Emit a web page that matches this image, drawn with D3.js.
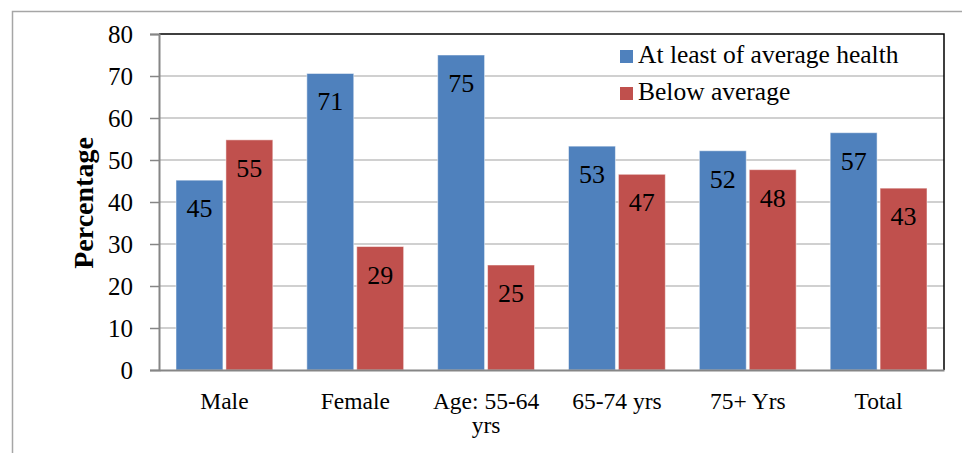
<!DOCTYPE html>
<html>
<head>
<meta charset="utf-8">
<script src="https://cdn.jsdelivr.net/npm/d3@7"></script>
<style>
body{margin:0;background:#fff;}
svg text{font-family:"Liberation Serif","Times New Roman",serif;fill:#000;}
</style>
</head>
<body>
<div id="chart"></div>
<script>
// data
var categories=[["Male"],["Female"],["Age: 55-64","yrs"],["65-74 yrs"],["75+ Yrs"],["Total"]];
var seriesNames=["At least of average health","Below average"];
var atLeast=[45.2,70.6,75.0,53.3,52.2,56.5];
var below=[54.8,29.4,25.0,46.6,47.7,43.3];
var atLeastLabels=["45","71","75","53","52","57"];
var belowLabels=["55","29","25","47","48","43"];
var yTicks=[0,10,20,30,40,50,60,70,80];
var colors=["#4F81BD","#C0504D"];

var W=962,H=453;
var svg=d3.select("#chart").append("svg")
.attr("width",W).attr("height",H);

// outer chart border
svg.append("rect")
.attr("x",12.5).attr("y",11.5)
.attr("width",1000).attr("height",1000)
.attr("fill","none").attr("stroke","#A6A6A6").attr("stroke-width",1.5);

var pLeft=159,pRight=944,pTop=34,pBottom=370;

var keys=categories.map(function(d){return d.join(" ");});

var x0=d3.scaleBand()
.domain(keys)
.range([pLeft,pRight])
.paddingInner(0.26)
.paddingOuter(0.13);

var x1=d3.scaleBand()
.domain([0,1])
.range([0,x0.bandwidth()])
.paddingInner(0.06);

var y=d3.scaleLinear()
.domain([0,80])
.range([pBottom,pTop]);

// gridlines
svg.append("g").selectAll("line")
.data(yTicks.filter(function(t){return t>0 && t<80;}))
.enter().append("line")
.attr("x1",pLeft).attr("x2",pRight)
.attr("y1",function(d){return y(d);}).attr("y2",function(d){return y(d);})
.attr("stroke","#C0C0C0").attr("stroke-width",1.5);

// plot area border top & right
svg.append("path")
.attr("d","M"+pLeft+","+pTop+"H"+pRight+"V"+pBottom)
.attr("fill","none").attr("stroke","#000").attr("stroke-width",1.5);

// bars
var rows=keys.map(function(k,i){
  return [
    {k:k,s:0,v:atLeast[i],t:atLeastLabels[i]},
    {k:k,s:1,v:below[i],t:belowLabels[i]}
  ];
});

var g=svg.append("g").selectAll("g")
.data(rows)
.enter().append("g")
.attr("transform",function(d){return "translate("+x0(d[0].k)+",0)";});

g.selectAll("rect")
.data(function(d){return d;})
.enter().append("rect")
.attr("x",function(d){return x1(d.s);})
.attr("width",x1.bandwidth())
.attr("y",function(d){return y(d.v);})
.attr("height",function(d){return y(0)-y(d.v);})
.attr("fill",function(d){return colors[d.s];})
.attr("stroke","#ffffff").attr("stroke-opacity",0.5).attr("stroke-width",1);

g.selectAll("text.val")
.data(function(d){return d;})
.enter().append("text")
.attr("class","val")
.attr("x",function(d){return x1(d.s)+x1.bandwidth()/2;})
.attr("y",function(d){return y(d.v)+37;})
.attr("text-anchor","middle")
.style("font-size","26px")
.text(function(d){return d.t;});

// y axis
var yAxis=svg.append("g")
.attr("transform","translate("+pLeft+",0)")
.call(d3.axisLeft(y).tickValues(yTicks).tickSize(9).tickPadding(17));
yAxis.select(".domain").attr("stroke","#868686").attr("stroke-width",2);
yAxis.selectAll(".tick line").attr("stroke","#868686").attr("stroke-width",1.5);
yAxis.selectAll(".tick text").style("font-size","25px")
.attr("font-family","Liberation Serif");

// x axis
var xAxis=svg.append("g")
.attr("transform","translate(0,"+pBottom+")")
.call(d3.axisBottom(x0).tickSize(0).tickFormat(""));
xAxis.select(".domain").attr("stroke","#868686").attr("stroke-width",2);

xAxis.selectAll(".tick").each(function(d,i){
  var t=d3.select(this).append("text")
  .attr("text-anchor","middle")
  .attr("fill","#000")
  .style("font-size","23.5px")
  .attr("font-family","Liberation Serif");
  categories[i].forEach(function(line,j){
    t.append("tspan").attr("x",0).attr("y",39+j*24).text(line);
  });
});

// y title
svg.append("text")
.attr("transform","translate(93,203)rotate(-90)")
.attr("text-anchor","middle")
.style("font-size","28px")
.style("font-weight","bold")
.text("Percentage");

// legend
var lg=svg.append("g").selectAll("g")
.data(seriesNames)
.enter().append("g")
.attr("transform",function(d,i){return "translate(620,"+(50+i*37)+")";});
lg.append("rect").attr("width",13).attr("height",13)
.attr("fill",function(d,i){return colors[i];});
lg.append("text").attr("x",18).attr("y",13)
.style("font-size","25.5px")
.text(function(d){return d;});
</script>
</body>
</html>
